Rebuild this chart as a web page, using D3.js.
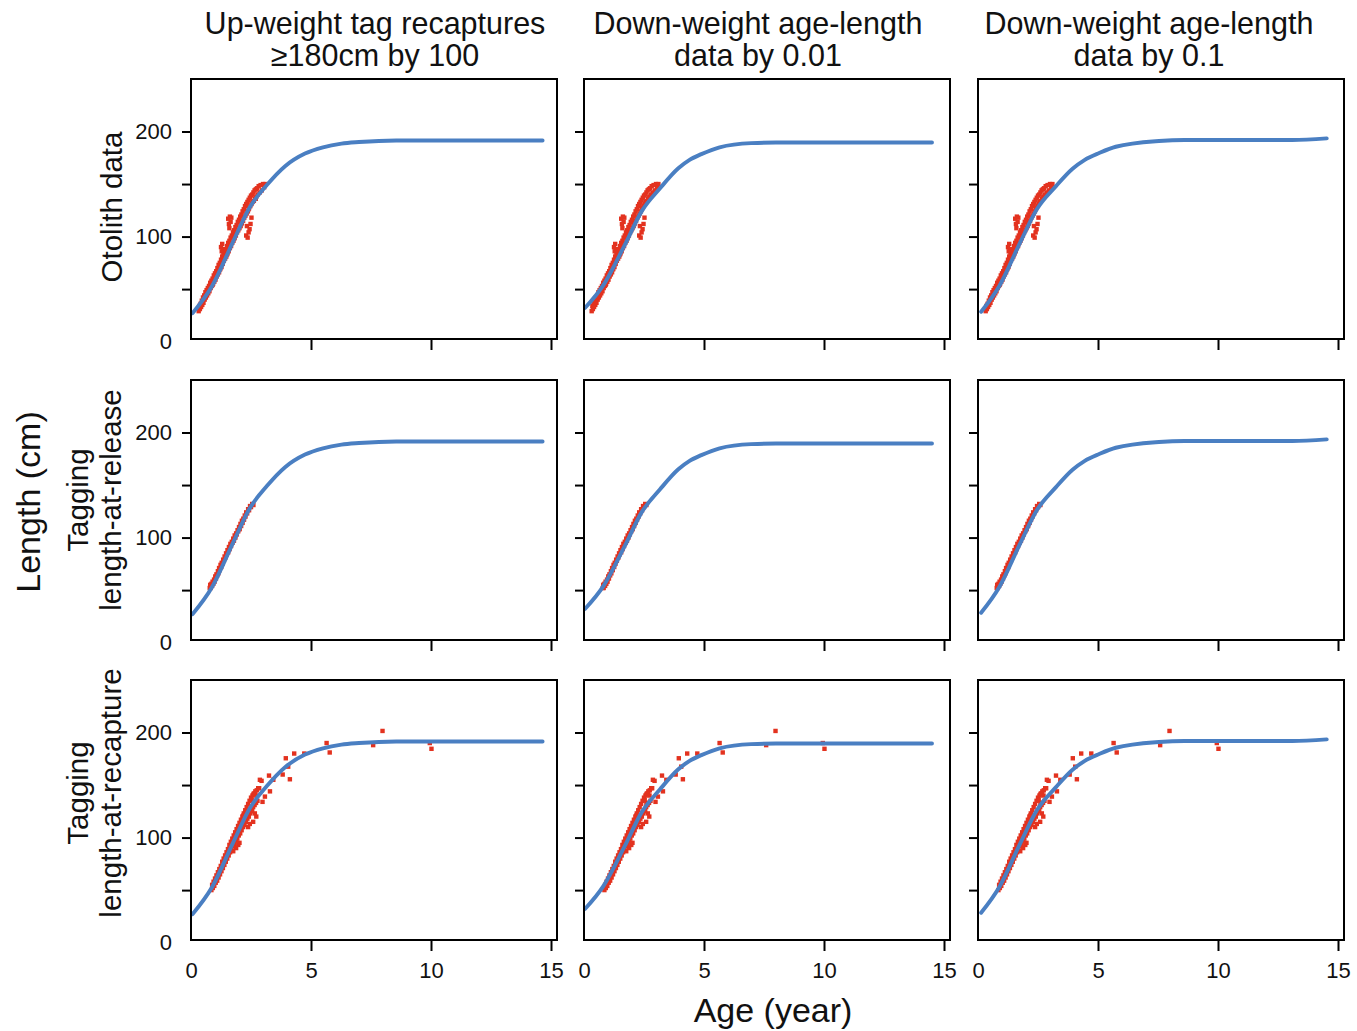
<!DOCTYPE html>
<html>
<head>
<meta charset="utf-8">
<script src="https://cdn.jsdelivr.net/npm/d3@7"></script>
<style>
  html, body { margin: 0; padding: 0; background: #fff; }
  svg text { font-family: "Liberation Sans", Arial, Helvetica, sans-serif; fill: #111; }
</style>
</head>
<body>
<svg id="chart" width="1357" height="1031"></svg>
<script>
// ---- Labels ----
const columnTitles = [
  ["Up-weight tag recaptures", "\u2265180cm by 100"],
  ["Down-weight age-length", "data by 0.01"],
  ["Down-weight age-length", "data by 0.1"]
];
const rowTitles = [
  ["Otolith data"],
  ["Tagging", "length-at-release"],
  ["Tagging", "length-at-recapture"]
];
const xTicks = [0, 5, 10, 15];
const yTicks = [0, 50, 100, 150, 200];
const yLabelled = [0, 100, 200];

// ---- Fitted growth curves (age, length cm), one per weighting scenario ----
const growthUpweightTags = [
  [0.06, 27], [0.88, 53], [1.75, 95], [2.45, 128], [3.16, 149], [3.92, 167],
  [4.75, 179], [5.5, 185], [6.27, 188.5], [7.0, 190], [8.55, 191.5], [14.65, 191.5]
];
const growthDownweight001 = [
  [0.04, 32], [0.80, 53.5], [1.70, 92], [2.40, 124], [3.17, 146], [3.93, 165],
  [4.40, 173], [4.89, 178.5], [5.65, 185], [6.96, 189], [8.0, 189.5], [14.5, 189.5]
];
const growthDownweight01 = [
  [0.13, 28.5], [0.89, 53], [1.75, 94], [2.45, 126], [3.25, 148], [3.94, 164.5],
  [4.45, 173], [5.05, 179.5], [5.74, 185.5], [7.54, 191], [8.6, 192], [13.1, 192], [14.53, 193.5]
];
const growthCurves = [growthUpweightTags, growthDownweight001, growthDownweight01];

// ---- Observations (age, length cm) ----
const otolithObs = [
  [0.32,29],[0.35,34],[0.37,31],[0.40,36],[0.42,33],[0.45,39],[0.47,35],[0.50,42],[0.52,37],[0.55,44],
  [0.57,40],[0.60,47],[0.62,42],[0.65,49],[0.67,44],[0.70,51],[0.72,46],[0.75,53],[0.77,48],[0.80,56],
  [0.82,51],[0.85,58],[0.87,53],[0.90,60],[0.92,55],[0.95,63],[0.97,57],[1.00,65],[1.02,59],[1.05,67],
  [1.07,62],[1.10,70],[1.12,64],[1.15,73],[1.17,66],[1.20,75],[1.22,69],[1.25,78],[1.27,71],[1.30,81],
  [1.32,74],[1.35,83],[1.37,77],[1.40,86],[1.42,79],[1.45,88],[1.47,81],[1.50,91],[1.52,84],[1.55,94],
  [1.57,86],[1.60,96],[1.62,89],[1.65,99],[1.67,91],[1.70,101],[1.72,94],[1.75,104],[1.77,96],[1.80,106],
  [1.82,99],[1.85,109],[1.87,101],[1.90,111],[1.92,104],[1.95,114],[1.97,106],[2.00,116],[2.02,108],
  [2.05,119],[2.07,110],[2.10,121],[2.12,113],[2.15,124],[2.17,115],[2.20,126],[2.22,118],[2.25,129],
  [2.27,120],[2.30,131],[2.32,122],[2.35,133],[2.37,124],[2.40,135],[2.42,127],[2.45,137],[2.47,129],
  [2.50,139],[2.52,131],[2.55,140],[2.57,133],[2.60,142],[2.62,134],[2.65,144],[2.67,136],[2.70,145],
  [2.72,138],[2.75,146],[2.78,140],[2.82,148],[2.86,142],[2.90,149],[2.95,144],[3.00,150],[3.05,147],
  [3.10,150],
  [0.60,43],[0.90,54],[1.20,69],[1.50,83],[1.80,98],[2.10,112],[2.40,126],[2.70,136],
  [1.25,90],[1.30,93],[1.34,88],[1.28,86],
  [1.55,117],[1.58,112],[1.62,119],[1.65,114],[1.68,118],[1.60,108],
  [2.30,101],[2.36,99],[2.40,104],[2.44,107],[2.33,110],[2.48,112],[2.52,118]
];
const tagReleaseObs = [
  [0.78,52],[0.80,55],[0.82,52],[0.85,56],[0.88,54],[0.90,58],[0.93,56],[0.96,60],[0.98,58],[1.01,63],
  [1.04,61],[1.06,65],[1.09,64],[1.12,68],[1.14,66],[1.17,71],[1.20,69],[1.23,74],[1.26,72],[1.28,76],
  [1.31,75],[1.34,79],[1.37,78],[1.40,82],[1.43,81],[1.46,85],[1.49,84],[1.52,88],[1.55,86],[1.58,91],
  [1.61,89],[1.64,94],[1.67,92],[1.70,96],[1.73,95],[1.76,99],[1.79,97],[1.82,102],[1.85,100],[1.88,104],
  [1.91,103],[1.94,107],[1.97,106],[2.00,110],[2.03,108],[2.06,113],[2.09,111],[2.12,116],[2.15,114],
  [2.18,118],[2.21,117],[2.24,121],[2.27,120],[2.30,124],[2.34,123],[2.38,127],[2.42,126],[2.46,130],
  [2.50,129],[2.55,132],[2.60,131]
];
const tagRecaptureObs = [
  [0.85,50],[0.88,55],[0.91,52],[0.94,58],[0.97,54],[1.00,61],[1.03,57],[1.06,64],[1.09,59],[1.12,67],
  [1.15,62],[1.18,70],[1.21,65],[1.24,73],[1.27,68],[1.30,77],[1.33,71],[1.36,80],[1.39,74],[1.42,83],
  [1.45,77],[1.48,86],[1.51,80],[1.54,89],[1.57,83],[1.60,93],[1.63,86],[1.66,96],[1.69,89],[1.72,99],
  [1.75,92],[1.78,102],[1.81,94],[1.84,105],[1.87,97],[1.90,108],[1.93,99],[1.96,111],[1.99,102],
  [2.02,114],[2.05,104],[2.08,117],[2.11,107],[2.14,120],[2.17,110],[2.20,123],[2.23,112],[2.26,126],
  [2.29,115],[2.32,129],[2.35,118],[2.38,132],[2.41,120],[2.44,135],[2.47,123],[2.50,138],[2.53,126],
  [2.56,140],[2.59,129],[2.62,142],[2.65,131],[2.68,144],[2.71,133],[2.74,145],[2.77,135],[2.80,147],
  [1.10,63],[1.40,78],[1.70,92],[2.00,107],[2.30,121],[2.60,133],
  [1.97,93],[2.02,95],[1.88,90],[1.76,87],[2.18,121],[2.38,110],[2.45,113],[2.59,115],[2.66,123],
  [2.72,120],[2.55,125],
  [2.53,136],[2.60,141],[2.66,142],[2.73,140],[2.84,147],[2.94,154],[2.98,134],[3.08,139],[2.87,155],
  [3.25,159],[3.29,144],[3.43,155],
  [3.82,160],[3.95,175.5],[4.05,167.5],[4.12,155.5],[4.30,180],[4.72,180],[5.65,190],[5.78,181],
  [7.59,188],[7.98,201.5],[9.95,190],[10.02,184.5]
];
const observations = [otolithObs, tagReleaseObs, tagRecaptureObs];

// ---- Layout ----
const svg = d3.select("#chart");
const colLeft = [191, 584, 978];
const rowTop = [79, 380, 680];
const panelW = 366, panelH = 260;
const titleCenters = [375, 758, 1149];
const rowLabelCenters = [207, 500, 793];

const x = d3.scaleLinear().domain([0, 15.25]).range([0, panelW]);
const y = d3.scaleLinear().domain([2.5, 250]).range([panelH, 0]);

const lineGen = d3.line().x(d => x(d[0])).y(d => y(d[1])).curve(d3.curveMonotoneX);

svg.append("defs").append("clipPath").attr("id", "panelClip")
  .append("rect").attr("width", panelW).attr("height", panelH);

for (let r = 0; r < 3; r++) {
  for (let c = 0; c < 3; c++) {
    const g = svg.append("g").attr("transform", `translate(${colLeft[c]},${rowTop[r]})`);

    // y axis
    const yAxis = d3.axisLeft(y).tickValues(yTicks).tickSize(9).tickPadding(10)
      .tickFormat(d => (c === 0 && yLabelled.includes(d)) ? d : "");
    const ya = g.append("g").call(yAxis);
    ya.select(".domain").remove();
    ya.selectAll(".tick").filter(d => d === 0).select("line").remove();
    ya.selectAll("line").attr("stroke", "#000").attr("stroke-width", 2);
    ya.selectAll("text").style("font-size", "22px").attr("fill", "#111");

    // x axis
    const xAxis = d3.axisBottom(x).tickValues(xTicks).tickSize(11).tickPadding(11)
      .tickFormat(d => r === 2 ? d : "");
    const xa = g.append("g").attr("transform", `translate(0,${panelH})`).call(xAxis);
    xa.select(".domain").remove();
    xa.selectAll(".tick").filter(d => d === 0).select("line").remove();
    xa.selectAll("line").attr("stroke", "#000").attr("stroke-width", 2);
    xa.selectAll("text").style("font-size", "22px").attr("fill", "#111");

    const plot = g.append("g").attr("clip-path", "url(#panelClip)");

    // observations
    plot.selectAll("rect.obs").data(observations[r]).join("rect")
      .attr("class", "obs")
      .attr("x", d => x(d[0]) - 2.2).attr("y", d => y(d[1]) - 2.2)
      .attr("width", 4.4).attr("height", 4.4)
      .attr("fill", "#e3321f");

    // fitted curve
    plot.append("path").datum(growthCurves[c])
      .attr("d", lineGen)
      .attr("fill", "none").attr("stroke", "#4a7fc2")
      .attr("stroke-width", 3.9).attr("stroke-linejoin", "round").attr("stroke-linecap", "round");

    // panel box
    g.append("rect").attr("width", panelW).attr("height", panelH)
      .attr("fill", "none").attr("stroke", "#000").attr("stroke-width", 2);
  }
}

// column titles
columnTitles.forEach((lines, c) => {
  lines.forEach((t, i) => {
    svg.append("text").attr("x", titleCenters[c]).attr("y", 33.5 + i * 32)
      .attr("text-anchor", "middle").style("font-size", "30.5px").text(t);
  });
});

// row titles
const rowLineX = { 1: [112], 2: [78, 111] };
rowTitles.forEach((lines, r) => {
  const xs = rowLineX[lines.length];
  lines.forEach((t, i) => {
    svg.append("text")
      .attr("transform", `translate(${xs[i]},${rowLabelCenters[r]}) rotate(-90)`)
      .attr("text-anchor", "middle").attr("dy", "0.35em")
      .style("font-size", "29.5px").text(t);
  });
});

// axis titles
svg.append("text")
  .attr("transform", `translate(28,502) rotate(-90)`)
  .attr("text-anchor", "middle").attr("dy", "0.35em")
  .style("font-size", "34px").text("Length (cm)");
svg.append("text").attr("x", 773).attr("y", 1022)
  .attr("text-anchor", "middle").style("font-size", "34px").text("Age (year)");
</script>
</body>
</html>
